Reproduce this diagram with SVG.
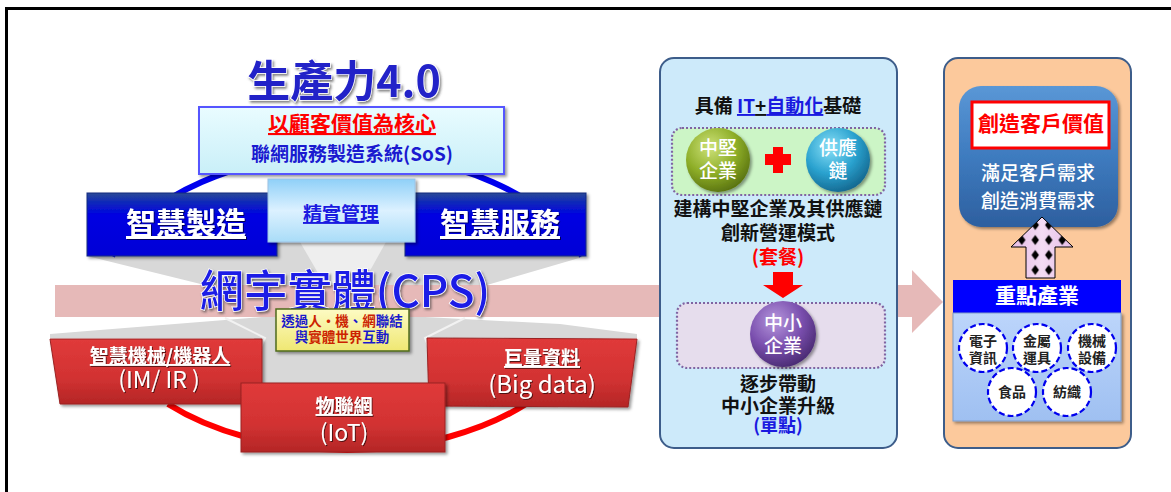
<svg xmlns="http://www.w3.org/2000/svg" width="1171" height="492" viewBox="0 0 1171 492">
<defs>
<linearGradient id="gBlue" x1="0" y1="0" x2="0" y2="1"><stop offset="0" stop-color="#2b4a96"/><stop offset="0.14" stop-color="#0f2ab8"/><stop offset="0.35" stop-color="#0000e2"/><stop offset="1" stop-color="#0000d6"/></linearGradient>
<linearGradient id="gRed" x1="0" y1="0" x2="0" y2="1"><stop offset="0" stop-color="#e03a3a"/><stop offset="0.6" stop-color="#d23232"/><stop offset="1" stop-color="#b42626"/></linearGradient>
<linearGradient id="gLean" x1="0" y1="0" x2="0" y2="1"><stop offset="0" stop-color="#8fd0f8"/><stop offset="0.5" stop-color="#dcf1ff"/><stop offset="1" stop-color="#a9dcf8"/></linearGradient>
<linearGradient id="gSos" x1="0" y1="0" x2="0" y2="1"><stop offset="0" stop-color="#e9fcff"/><stop offset="1" stop-color="#c9eff8"/></linearGradient>
<linearGradient id="gYel" x1="0" y1="0" x2="0" y2="1"><stop offset="0" stop-color="#fdfbc4"/><stop offset="1" stop-color="#efe772"/></linearGradient>
<linearGradient id="gRound" x1="0" y1="0" x2="0" y2="1"><stop offset="0" stop-color="#5a97d6"/><stop offset="0.5" stop-color="#3e7bbf"/><stop offset="1" stop-color="#2d5f9f"/></linearGradient>
<linearGradient id="gInd" x1="0" y1="0" x2="0" y2="1"><stop offset="0" stop-color="#bcd5fb"/><stop offset="1" stop-color="#9fc0f1"/></linearGradient>
<linearGradient id="gLav" x1="0" y1="0" x2="1" y2="0"><stop offset="0" stop-color="#e6bde6"/><stop offset="0.5" stop-color="#f3dbf3"/><stop offset="1" stop-color="#e6bde6"/></linearGradient>
<radialGradient id="gOlive" cx="0.38" cy="0.3" r="0.75"><stop offset="0" stop-color="#cde27a"/><stop offset="0.55" stop-color="#8eae28"/><stop offset="1" stop-color="#566f0e"/></radialGradient>
<radialGradient id="gTeal" cx="0.38" cy="0.3" r="0.75"><stop offset="0" stop-color="#8ae0f7"/><stop offset="0.55" stop-color="#2aa2cf"/><stop offset="1" stop-color="#13648c"/></radialGradient>
<radialGradient id="gPurp" cx="0.38" cy="0.3" r="0.75"><stop offset="0" stop-color="#b596dc"/><stop offset="0.55" stop-color="#7a4fae"/><stop offset="1" stop-color="#47286f"/></radialGradient>
<pattern id="pDia" patternUnits="userSpaceOnUse" x="1015" y="232.5" width="13.5" height="15"><path d="M6.75,2.5 L10.5,7.5 L6.75,12.5 L3,7.5 Z" fill="#000"/></pattern>
<filter id="sh" x="-10%" y="-10%" width="130%" height="140%"><feDropShadow dx="2" dy="2" stdDeviation="1.5" flood-color="#000" flood-opacity="0.4"/></filter>
<filter id="tsh" x="-10%" y="-20%" width="130%" height="150%"><feDropShadow dx="1.5" dy="2" stdDeviation="1" flood-color="#333" flood-opacity="0.6"/></filter>
<filter id="wsh" x="-10%" y="-20%" width="130%" height="150%"><feDropShadow dx="1" dy="1" stdDeviation="0.6" flood-color="#000" flood-opacity="0.6"/></filter>
</defs>
<style>
text { font-family: "Noto Sans CJK TC", "Noto Sans", sans-serif; font-weight: 700; text-anchor: middle; }
.wt { fill: #ffffff; filter: url(#wsh); }
.ul { text-decoration: underline; }
.reg { font-weight: 400; }
.med { font-weight: 500; }
.blk { fill: #111111; font-size: 19px; }
.blu { fill: #1a1ae0; }
.red { fill: #ff0000; }
.dot { stroke: #8064a2; stroke-width: 2.2; stroke-dasharray: 2 2; }
.dash { fill: #ffffff; stroke: #0000ee; stroke-width: 2.2; stroke-dasharray: 6 3; }
.ind { fill: #222222; font-size: 14px; }
.pan { stroke: #3d5d8a; stroke-width: 2; }
</style>
<rect width="1171" height="492" fill="#ffffff"/>
<path id="frame" d="M6.5,492 V8.5 H1171" fill="none" stroke="#000" stroke-width="3"/>

<g id="funnel">
<polygon points="87,256 586,256 470,290 225,290" fill="#d8d8d8"/>
<polygon points="268,242 418,242 424,317 448,383 238,383 262,317" fill="#d8d8d8"/>
<polygon points="50,338 637,338 637,334 560,324 425,317 262,317 50,334" fill="#d8d8d8"/>
<polygon points="300,242 386,242 362,285 325,285" fill="#eeeeee"/>
<polyline points="225,318 265,338 246,383" fill="none" stroke="#f2f2f2" stroke-width="2"/>
<polyline points="465,318 425,338 442,383" fill="none" stroke="#f2f2f2" stroke-width="2"/>
</g>

<g id="ring" fill="none" stroke-width="6">
<path d="M112,256 A247,148 0 0 1 582,256" stroke="#0000ee"/>
<path d="M168,404 A247,148 0 0 0 526,404" stroke="#ff0000"/>
</g>

<g id="sos-box">
<rect x="199" y="107" width="305" height="67" fill="url(#gSos)" stroke="#5555ff" stroke-width="2" filter="url(#sh)"/>
<text x="352" y="131" font-size="21" class="red ul">以顧客價值為核心</text>
<text x="352" y="161" font-size="19" fill="#1a1ad0">聯網服務製造系統(SoS)</text>
</g>

<g id="title">
<text x="344" y="97" font-size="43" fill="#2424c8" stroke="#ffffff" stroke-width="1.5" paint-order="stroke" filter="url(#tsh)">生產力4.0</text>
</g>

<g id="smart-mfg">
<rect x="87" y="193" width="190" height="63" fill="url(#gBlue)" stroke="#102a80" stroke-width="1" filter="url(#sh)"/>
<text x="186" y="234" font-size="30" class="wt ul">智慧製造</text>
</g>

<g id="smart-svc">
<rect x="405" y="193" width="181" height="63" fill="url(#gBlue)" stroke="#102a80" stroke-width="1" filter="url(#sh)"/>
<text x="500" y="234" font-size="30" class="wt ul">智慧服務</text>
</g>

<g id="lean">
<rect x="268" y="179" width="147" height="63" fill="url(#gLean)" stroke="#9cc2e4" stroke-width="1" filter="url(#sh)"/>
<text x="341" y="221" font-size="19" class="blu ul">精實管理</text>
</g>

<g id="im-ir">
<polygon points="50,339 262,339 262,404 60,404" fill="url(#gRed)" stroke="#9a2222" stroke-width="1" filter="url(#sh)"/>
<text x="160" y="363" font-size="19" class="wt ul">智慧機械/機器人</text>
<text x="159" y="388" font-size="23" class="wt reg">(IM/ IR )</text>
</g>

<g id="big-data">
<polygon points="427,338 637,339 628,407 429,406" fill="url(#gRed)" stroke="#9a2222" stroke-width="1" filter="url(#sh)"/>
<text x="542" y="365" font-size="19" class="wt ul">巨量資料</text>
<text x="542" y="393" font-size="24" class="wt reg">(Big data)</text>
</g>

<g id="iot">
<rect x="241" y="383" width="204" height="69" fill="url(#gRed)" stroke="#9a2222" stroke-width="1" filter="url(#sh)"/>
<text x="344" y="413" font-size="19" class="wt ul">物聯網</text>
<text x="344" y="441" font-size="23" class="wt reg">(IoT)</text>
</g>

<g id="mid-panel">
<rect x="660" y="58" width="237" height="390" rx="14" fill="#cdeafa" class="pan"/>
<text x="778" y="113" class="blk">具備 <tspan class="blu ul">IT</tspan><tspan class="ul">+</tspan><tspan class="blu ul">自動化</tspan>基礎</text>
<rect x="672" y="128" width="213" height="67" rx="10" fill="#ccf5c6" class="dot"/>
<g id="core-firm">
<circle cx="718" cy="160" r="32" fill="url(#gOlive)" filter="url(#sh)"/>
<text x="718" y="155" font-size="19" fill="#fff" class="med">中堅</text>
<text x="718" y="178" font-size="19" fill="#fff" class="med">企業</text>
</g>
<g id="plus">
<rect x="765" y="154" width="26" height="11" fill="#ff0000"/>
<rect x="773" y="147" width="10" height="26" fill="#ff0000"/>
</g>
<g id="supply-chain">
<circle cx="838" cy="160" r="32" fill="url(#gTeal)" filter="url(#sh)"/>
<text x="838" y="155" font-size="19" fill="#fff" class="med">供應</text>
<text x="838" y="178" font-size="19" fill="#fff" class="med">鏈</text>
</g>
<text x="778" y="216" class="blk">建構中堅企業及其供應鏈</text>
<text x="778" y="240" class="blk">創新營運模式</text>
<text x="778" y="264" font-size="19" class="red">(套餐)</text>
<rect x="677" y="303" width="208" height="65" rx="10" fill="#e6dded" class="dot"/>
<g id="sme">
<circle cx="783" cy="334" r="33" fill="url(#gPurp)" filter="url(#sh)"/>
<text x="783" y="330" font-size="19" fill="#fff" class="med">中小</text>
<text x="783" y="353" font-size="19" fill="#fff" class="med">企業</text>
</g>
<text x="778" y="391" class="blk">逐步帶動</text>
<text x="778" y="413" class="blk">中小企業升級</text>
<text x="778" y="432" font-size="18" class="blu">(單點)</text>
</g>

<g id="right-panel">
<rect x="944" y="58" width="187" height="390" rx="14" fill="#fcc99c" class="pan"/>
<rect x="959" y="86" width="159" height="141" rx="22" fill="url(#gRound)" filter="url(#sh)"/>
<rect x="972" y="102" width="137" height="46" fill="#ffffff" stroke="#ff0000" stroke-width="3"/>
<text x="1041" y="131" font-size="21" class="red">創造客戶價值</text>
<text x="1038" y="180" font-size="19" fill="#ffffff" class="med">滿足客戶需求</text>
<text x="1038" y="208" font-size="19" fill="#ffffff" class="med">創造消費需求</text>
<rect x="953" y="280" width="168" height="33" fill="#0000ff"/>
<text x="1037" y="303" font-size="21" fill="#ffffff">重點產業</text>
<rect x="953" y="313" width="168" height="108" fill="url(#gInd)" stroke="#7f9cc8" stroke-width="1" filter="url(#sh)"/>
<g id="ind-electronics"><circle cx="983" cy="348" r="24" class="dash"/><text x="983" y="346" class="ind">電子</text><text x="983" y="363" class="ind">資訊</text></g>
<g id="ind-metal"><circle cx="1037" cy="348" r="24" class="dash"/><text x="1037" y="346" class="ind">金屬</text><text x="1037" y="363" class="ind">運具</text></g>
<g id="ind-machinery"><circle cx="1092" cy="348" r="24" class="dash"/><text x="1092" y="346" class="ind">機械</text><text x="1092" y="363" class="ind">設備</text></g>
<g id="ind-food"><circle cx="1012" cy="392" r="24" class="dash"/><text x="1012" y="397" class="ind">食品</text></g>
<g id="ind-textile"><circle cx="1067" cy="392" r="24" class="dash"/><text x="1067" y="397" class="ind">紡織</text></g>
</g>

<g id="connectors">
<path d="M55,285 H659 V317 H55 Z" fill="#e6b9b8"/>
<path d="M898,285 H912 V270 L943,302 L912,333 V317 H898 Z" fill="#e6b9b8"/>
<path d="M773,272 H793 V285 H803 L783,298 L763,285 H773 Z" fill="#ff0000"/>
<path d="M1042,217 L1073,247 L1055,247 L1055,278 L1026,278 L1026,247 L1011,247 Z" fill="url(#gLav)"/>
<path d="M1042,217 L1073,247 L1055,247 L1055,278 L1026,278 L1026,247 L1011,247 Z" fill="url(#pDia)" stroke="#000" stroke-width="1"/>
</g>

<g id="cps">
<text x="345" y="307" font-size="44" class="med" fill="#1a1ae6" stroke="#ffffff" stroke-width="1.5" paint-order="stroke" filter="url(#tsh)">網宇實體(CPS)</text>
</g>

<g id="hmi-box">
<rect x="276" y="309" width="133" height="42" fill="url(#gYel)" stroke="#4f6b1e" stroke-width="1.5" filter="url(#sh)"/>
<text x="342" y="326" font-size="13.5"><tspan fill="#1a1acc">透過</tspan><tspan fill="#cc2200">人・機</tspan><tspan fill="#1a1acc">、</tspan><tspan fill="#cc2200">網</tspan><tspan fill="#1a1acc">聯結</tspan></text>
<text x="342" y="342" font-size="13.5"><tspan fill="#1a1acc">與</tspan><tspan fill="#cc2200">實體世界</tspan><tspan fill="#1a1acc">互動</tspan></text>
</g>
</svg>
